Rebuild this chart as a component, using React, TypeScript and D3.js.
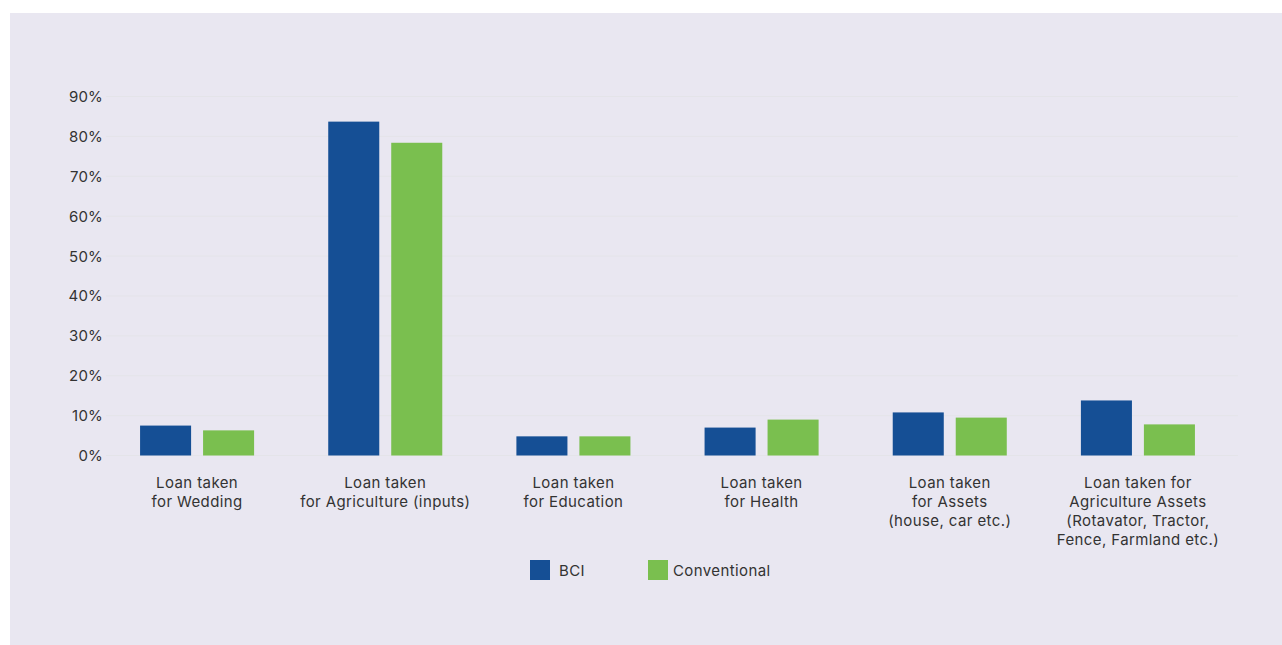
import React, { useEffect, useRef } from "react";
import * as d3 from "d3";

const categories: string[][] = [
  ["Loan taken", "for Wedding"],
  ["Loan taken", "for Agriculture (inputs)"],
  ["Loan taken", "for Education"],
  ["Loan taken", "for Health"],
  ["Loan taken", "for Assets", "(house, car etc.)"],
  ["Loan taken for", "Agriculture Assets", "(Rotavator, Tractor,", "Fence, Farmland etc.)"],
];
const seriesNames = ["BCI", "Conventional"];
const bciValues = [7.5, 83.7, 4.8, 7.0, 10.8, 13.8];
const conventionalValues = [6.3, 78.4, 4.8, 9.0, 9.5, 7.8];
const yTicks = [0, 10, 20, 30, 40, 50, 60, 70, 80, 90];
const colors = ["#154f95", "#7abf4f"];

const W = 1282;
const H = 645;

export default function App() {
  const ref = useRef<SVGSVGElement | null>(null);

  useEffect(() => {
    const svg = d3.select(ref.current);
    svg.selectAll("*").remove();
    const font = "Inter, 'Noto Sans', sans-serif";
    const textColor = "#333333";
    const ls = "0.4px";

    svg.append("rect").attr("x", 10).attr("y", 13).attr("width", W - 10).attr("height", H - 13).attr("fill", "#e9e7f1");

    const keys = categories.map((_, i) => String(i));
    const x = d3.scaleBand<string>().domain(keys).range([103, 1232]).paddingInner(0.394).paddingOuter(0.197);
    const xi = d3.scaleBand<string>().domain(seriesNames).range([0, x.bandwidth()]).paddingInner(0.19);
    const y = d3.scaleLinear().domain([0, 90]).range([455.5, 96.5]);

    // gridlines
    svg.append("g").selectAll("line").data(yTicks).join("line")
      .attr("x1", 106).attr("x2", 1238)
      .attr("y1", (d) => y(d)).attr("y2", (d) => y(d))
      .attr("stroke", "#e4e4e9").attr("stroke-width", 1);

    // y labels
    svg.append("g").selectAll("text").data(yTicks).join("text")
      .attr("x", 103).attr("y", (d) => y(d) + 5.5)
      .attr("text-anchor", "end")
      .attr("font-family", font).attr("font-size", 15).attr("fill", textColor)
      .attr("letter-spacing", "0.2px")
      .text((d) => `${d}%`);

    const series = [bciValues, conventionalValues];
    series.forEach((vals, si) => {
      svg.append("g").selectAll("rect").data(vals).join("rect")
        .attr("x", (_, i) => (x(String(i)) as number) + (xi(seriesNames[si]) as number))
        .attr("width", xi.bandwidth())
        .attr("y", (d) => y(d))
        .attr("height", (d) => y(0) - y(d))
        .attr("fill", colors[si]);
    });

    // category labels
    const lab = svg.append("g");
    categories.forEach((lines, i) => {
      const cx = (x(String(i)) as number) + x.bandwidth() / 2;
      const t = lab.append("text")
        .attr("text-anchor", "middle")
        .attr("font-family", font).attr("font-size", 15).attr("fill", textColor)
        .attr("letter-spacing", ls);
      lines.forEach((ln, li) => {
        t.append("tspan").attr("x", cx).attr("y", 488 + li * 19).text(ln);
      });
    });

    // legend
    const legendX = [530, 648];
    seriesNames.forEach((name, i) => {
      svg.append("rect").attr("x", legendX[i]).attr("y", 560).attr("width", 20).attr("height", 20).attr("fill", colors[i]);
      svg.append("text").attr("x", legendX[i] + (i === 0 ? 29 : 25)).attr("y", 575.5)
        .attr("font-family", font).attr("font-size", 15).attr("fill", textColor)
        .attr("letter-spacing", ls).text(name);
    });
  }, []);

  return (
    <svg ref={ref} width={W} height={H} style={{ position: "absolute", left: 0, top: 0, display: "block" }} />
  );
}
